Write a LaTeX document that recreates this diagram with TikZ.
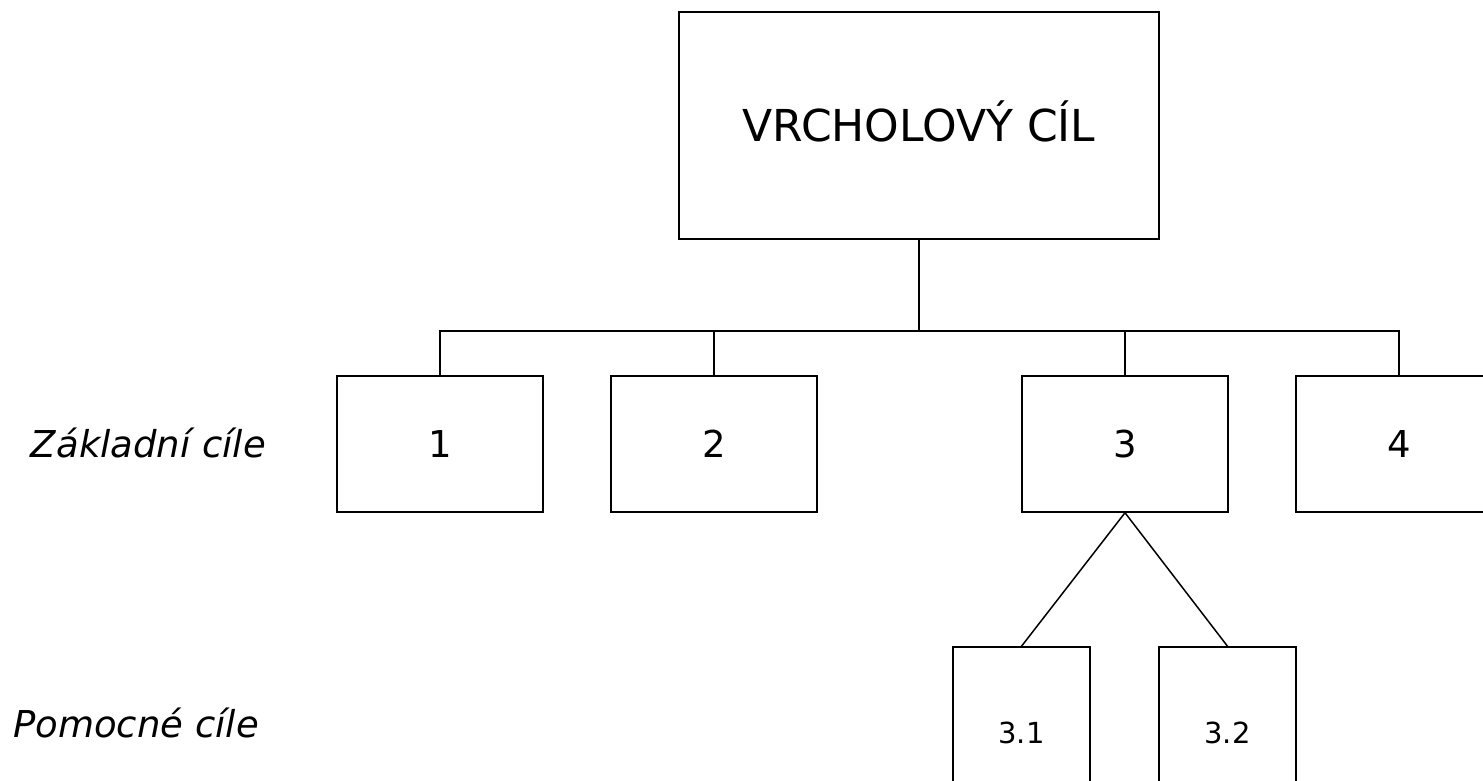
\documentclass[tikz,border=0pt]{standalone}
\usepackage{fontspec}
\setmainfont{DejaVu Sans}
\begin{document}
\begin{tikzpicture}[x=1pt,y=-1pt,
  line width=1.5pt,
  goalbox/.style={draw, rectangle, inner sep=0pt, text depth=0pt},
  topgoal/.style={goalbox, minimum width=480pt, minimum height=227pt, text height=32pt, font=\fontsize{44}{52}\selectfont},
  maingoal/.style={goalbox, minimum width=206pt, minimum height=136pt, text height=27pt, font=\fontsize{37}{44}\selectfont},
  subgoal/.style={goalbox, minimum width=137pt, minimum height=172pt, text height=21pt, font=\fontsize{29}{34}\selectfont},
  levellabel/.style={anchor=base, inner sep=0pt, font=\fontsize{37}{44}\selectfont\itshape}]
  \useasboundingbox (0,0) rectangle (1483,781);
  \clip (0,0) rectangle (1483,781);

  % apex of the goal tree
  \node[topgoal] (top) at (919,125.5) {VRCHOLOVÝ CÍL};

  % basic goals
  \node[maingoal] (b1) at (440,444) {1};
  \node[maingoal] (b2) at (714,444) {2};
  \node[maingoal] (b3) at (1125,444) {3};
  \node[maingoal] (b4) at (1399,444) {4};

  % auxiliary goals under goal 3
  \node[subgoal] (s1) at (1021.5,733) {3.1};
  \node[subgoal] (s2) at (1227.5,733) {3.2};

  % level captions
  \node[levellabel] (lz) at (148.5,457) {Základní cíle};
  \node[levellabel] (lp) at (136,737) {Pomocné cíle};

  % connectors
  \draw (top.south) -- ++(0,91) coordinate (bus);
  \draw (b1.north) -- (b1.north |- bus) -- (b4.north |- bus) -- (b4.north);
  \draw (b2.north) -- (b2.north |- bus);
  \draw (b3.north) -- (b3.north |- bus);
  \draw (b3.south) -- (s1.north);
  \draw (b3.south) -- (s2.north);
\end{tikzpicture}
\end{document}
